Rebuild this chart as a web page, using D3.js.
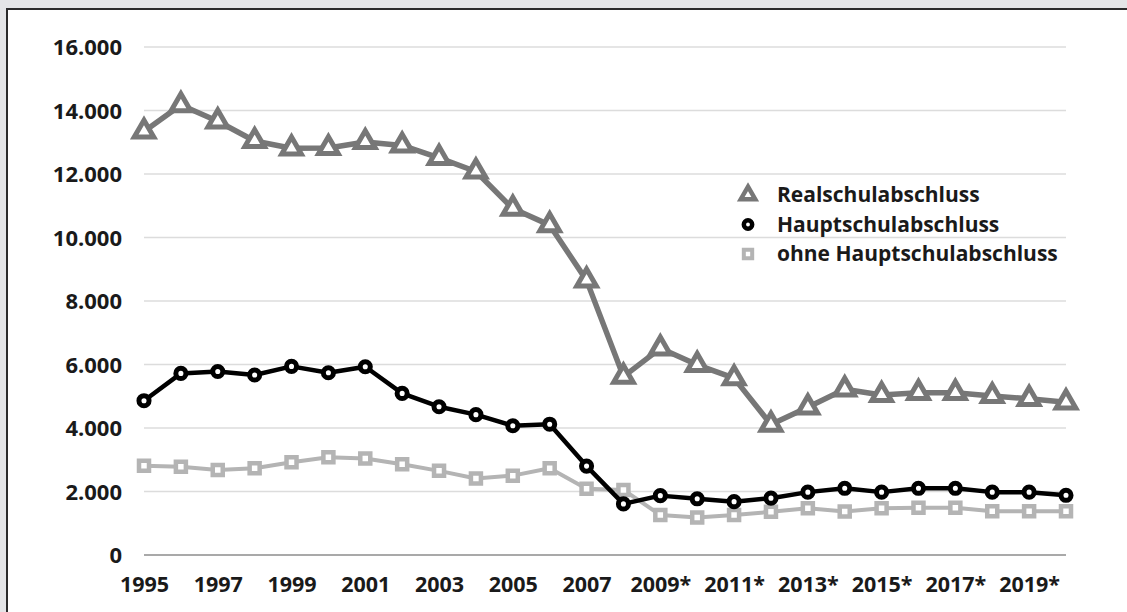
<!DOCTYPE html>
<html>
<head>
<meta charset="utf-8">
<script src="https://cdn.jsdelivr.net/npm/d3@7"></script>
<style>
  html, body { margin: 0; padding: 0; background: #e4e5e7; overflow: hidden; }
  svg { display: block; }
  text { font-family: "Open Sans", "Noto Sans", sans-serif; }
</style>
</head>
<body>
<svg id="chart" width="1127" height="612"></svg>
<script>
// Schulabgänger nach Abschlussart, 1995–2020
const years = [1995, 1996, 1997, 1998, 1999, 2000, 2001, 2002, 2003, 2004, 2005, 2006, 2007,
               2008, 2009, 2010, 2011, 2012, 2013, 2014, 2015, 2016, 2017, 2018, 2019, 2020];
const xTickYears = [1995, 1997, 1999, 2001, 2003, 2005, 2007, 2009, 2011, 2013, 2015, 2017, 2019];
const xTickLabels = ["1995", "1997", "1999", "2001", "2003", "2005", "2007",
                     "2009*", "2011*", "2013*", "2015*", "2017*", "2019*"];
const yTicks = [0, 2000, 4000, 6000, 8000, 10000, 12000, 14000, 16000];

const realschulabschluss = [13340, 14170, 13660, 13040, 12810, 12820, 13010, 12900, 12510, 12080,
                            10910, 10390, 8650, 5620, 6510, 5990, 5570, 4110, 4650, 5220,
                            5040, 5110, 5110, 5010, 4920, 4810];
const hauptschulabschluss = [4860, 5720, 5780, 5670, 5940, 5740, 5930, 5090, 4670, 4420,
                             4070, 4120, 2800, 1610, 1870, 1770, 1680, 1790, 1980, 2100,
                             1980, 2100, 2100, 1980, 1980, 1880];
const ohneHauptschulabschluss = [2810, 2780, 2680, 2730, 2920, 3080, 3040, 2860, 2650, 2410,
                                 2500, 2730, 2090, 2050, 1260, 1180, 1260, 1360, 1470, 1370,
                                 1470, 1490, 1490, 1380, 1380, 1380];

const seriesNames = ["Realschulabschluss", "Hauptschulabschluss", "ohne Hauptschulabschluss"];

const svg = d3.select("#chart");

// frame: grey surround, white panel with dark top/left edge
svg.append("rect").attr("x", 0).attr("y", 0).attr("width", 1127).attr("height", 612).attr("fill", "#e4e5e7");
svg.append("rect").attr("x", 7).attr("y", 9).attr("width", 1120).attr("height", 603).attr("fill", "#ffffff");
svg.append("path").attr("d", "M7,612 L7,9 L1127,9")
  .attr("fill", "none").attr("stroke", "#2b2b2b").attr("stroke-width", 2);

const x = d3.scalePoint().domain(years).range([144, 1066]).padding(0);
const y = d3.scaleLinear().domain([0, 16000]).range([555, 47]);

// gridlines
svg.append("g").selectAll("line").data(yTicks).join("line")
  .attr("x1", 144).attr("x2", 1066)
  .attr("y1", d => y(d)).attr("y2", d => y(d))
  .attr("stroke", d => d === 0 ? "#a9a9a9" : "#dcdcdc")
  .attr("stroke-width", d => d === 0 ? 2 : 1.6);

// y axis labels
const fmt = d => d === 0 ? "0" : d3.format(",")(d).replace(/,/g, ".");
const yAxis = d3.axisLeft(y).tickValues(yTicks).tickFormat(fmt).tickSize(0).tickPadding(0);
const gy = svg.append("g").attr("transform", "translate(122,0)").call(yAxis);
gy.select(".domain").remove();
gy.selectAll("text").attr("font-size", 22).attr("font-weight", 700).attr("fill", "#1a1a1a")
  .attr("dy", "0.35em");

// x axis labels
const xAxis = d3.axisBottom(x).tickValues(xTickYears)
  .tickFormat(d => xTickLabels[xTickYears.indexOf(d)]).tickSize(0).tickPadding(0);
const gx = svg.append("g").attr("transform", "translate(0,576)").call(xAxis);
gx.select(".domain").remove();
gx.selectAll("text").attr("font-size", 21.5).attr("font-weight", 700).attr("fill", "#1a1a1a")
  .attr("dy", "0.75em");

const line = d3.line().x((d, i) => x(years[i])).y(d => y(d));

const styles = [
  { name: seriesNames[0], data: realschulabschluss, color: "#777777", width: 5.5, symbol: d3.symbolTriangle, size: 165, mw: 5 },
  { name: seriesNames[2], data: ohneHauptschulabschluss, color: "#b4b4b4", width: 4, symbol: d3.symbolSquare, size: 100, mw: 4.5 },
  { name: seriesNames[1], data: hauptschulabschluss, color: "#000000", width: 4.5, symbol: d3.symbolCircle, size: 80, mw: 5 }
];

styles.forEach(s => {
  const g = svg.append("g");
  g.append("path").datum(s.data).attr("d", line)
    .attr("fill", "none").attr("stroke", s.color).attr("stroke-width", s.width)
    .attr("stroke-linejoin", "round");
  g.selectAll("path.m").data(s.data).join("path").attr("class", "m")
    .attr("d", d3.symbol(s.symbol, s.size))
    .attr("transform", (d, i) => `translate(${x(years[i])},${y(d)})`)
    .attr("fill", "#ffffff").attr("stroke", s.color).attr("stroke-width", s.mw);
});

// legend
const legendItems = [
  { name: seriesNames[0], color: "#777777", symbol: d3.symbolTriangle, size: 90, mw: 4.5 },
  { name: seriesNames[1], color: "#000000", symbol: d3.symbolCircle, size: 55, mw: 4.5 },
  { name: seriesNames[2], color: "#b4b4b4", symbol: d3.symbolSquare, size: 70, mw: 4 }
];
const lg = svg.append("g").attr("transform", "translate(748,195)");
legendItems.forEach((it, i) => {
  const row = lg.append("g").attr("transform", `translate(0,${i * 29.5})`);
  row.append("path").attr("d", d3.symbol(it.symbol, it.size))
    .attr("fill", "#ffffff").attr("stroke", it.color).attr("stroke-width", it.mw);
  row.append("text").attr("x", 29).attr("y", 0).attr("dy", "0.35em")
    .attr("font-size", 21).attr("font-weight", 700).attr("fill", "#1a1a1a")
    .text(it.name);
});
</script>
</body>
</html>
